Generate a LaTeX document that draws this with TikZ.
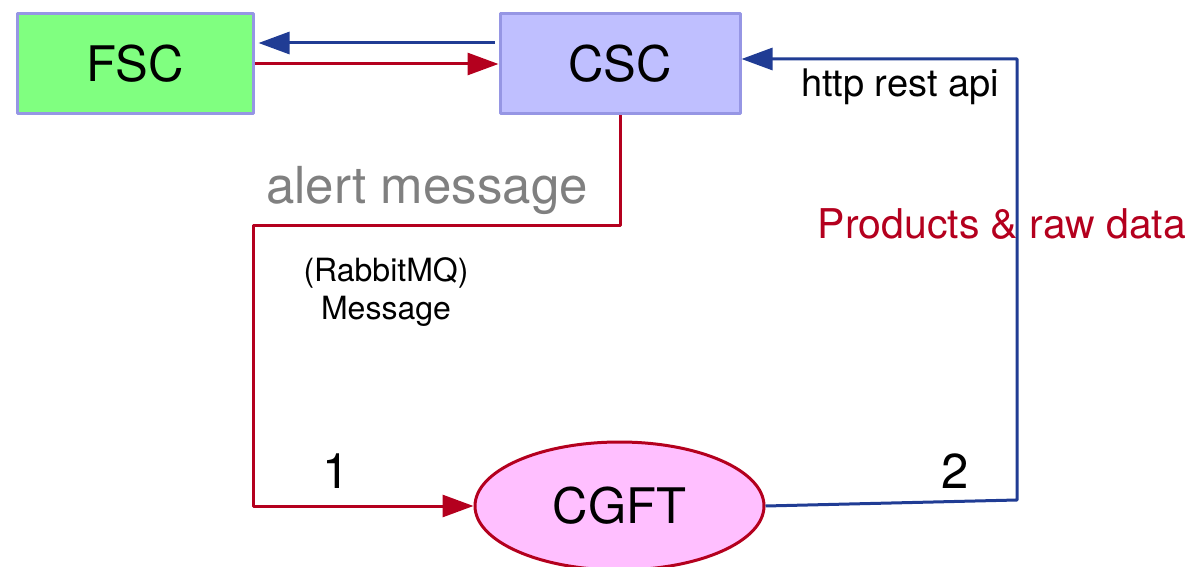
\documentclass[tikz,border=0pt]{standalone}
\usepackage{fontspec}
\setmainfont{TeX Gyre Heros}
\usepackage{xcolor}
\usetikzlibrary{arrows.meta,shapes.geometric,calc}

\definecolor{boxline}{RGB}{150,150,228}
\definecolor{fscgreen}{RGB}{128,255,128}
\definecolor{cscblue}{RGB}{191,191,255}
\definecolor{cgftpink}{RGB}{255,191,255}
\definecolor{linkred}{RGB}{180,0,30}
\definecolor{linkblue}{RGB}{32,60,148}
\newcommand{\namefont}{\fontsize{24.5}{29}\selectfont}
\newcommand{\notefont}{\fontsize{16}{19}\selectfont}

\begin{document}
\begin{tikzpicture}[x=0.5pt, y=-0.5pt, >={Triangle[length=15.5pt,width=11pt]}, line join=round,
  box/.style={draw=boxline, line width=1.5pt, minimum height=50pt, inner sep=0pt, font=\namefont},
  redlink/.style={draw=linkred, line width=1.5pt},
  bluelink/.style={draw=linkblue, line width=1.5pt}]
  \useasboundingbox (0,0) rectangle (1195,567);
  % the three parts
  \node[box, fill=fscgreen, minimum width=118pt] (FSC) at (135,64) {FSC};
  \node[box, fill=cscblue, minimum width=120pt] (CSC) at (620,64) {CSC};
  \node[ellipse, draw=linkred, fill=cgftpink, line width=1.5pt, minimum width=144.5pt,
        minimum height=64pt, inner sep=0pt, font=\namefont] (CGFT) at (619.5,506) {CGFT};
  \coordinate (R1) at (253,225);
  \coordinate (R2) at (253,506);
  \coordinate (B1) at (1017,500);
  \coordinate (B2) at (1017,59);
  % links between FSC and CSC
  \draw[bluelink,->] ($(CSC.west)+(-4,-21)$) -- ($(FSC.east)+(4,-21)$);
  \draw[redlink,->] (FSC.east) -- (CSC.west);
  % alert path down to CGFT
  \draw[redlink,->] (CSC.south) |- (R1) -- (R2) -- (CGFT.west);
  % data path back up to CSC
  \draw[bluelink,->] (CGFT.east) -- (B1) -- (B2) -- (CSC.east |- B2);
  \node[font=\fontsize{25.5}{30}\selectfont, text=gray] (alert) at (427,190) {alert message};
  \node[font=\notefont, align=center] (rabbit) at (386,292) {(RabbitMQ)\\Message};
  \node[font=\fontsize{19}{23}\selectfont] (http) at (900,87) {http rest api};
  \node[font=\fontsize{20.5}{24}\selectfont, text=linkred] (prod) at (1002,224) {Products \& raw data};
  \node[font=\namefont] (one) at (336,471) {1};
  \node[font=\namefont] (two) at (955,471) {2};
\end{tikzpicture}
\end{document}
